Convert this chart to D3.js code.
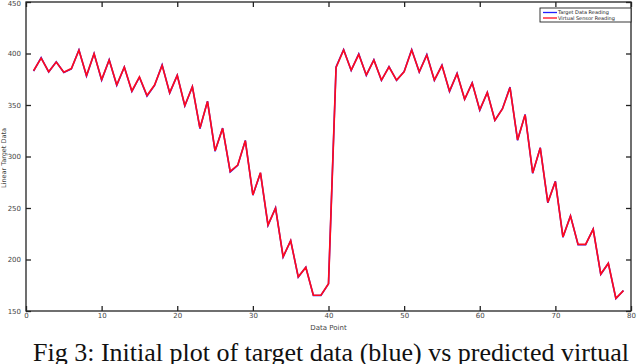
<!DOCTYPE html>
<html>
<head>
<meta charset="utf-8">
<script src="https://cdn.jsdelivr.net/npm/d3@7"></script>
<style>
  body { margin: 0; background: #fff; }
  svg { display: block; }
  .tick text { font-family: "DejaVu Sans", sans-serif; font-size: 7px; fill: #444; }
</style>
</head>
<body>
<div id="chart-area"></div>
<script>
// data, x = 1..79
var target = [383, 396, 382, 392, 381.6, 385, 403.6, 378, 400, 374,
  394, 369, 387, 363, 377, 358.6, 369, 389, 361.5, 379,
  349, 368, 327, 353.8, 305, 327.6, 285, 291.4, 315.6, 262.4,
  284, 233, 250.2, 202.3, 218.4, 182.9, 192.6, 165.1, 165.1, 176.4,
  387, 403.9, 383.5, 399.7, 378.7, 394, 373.8, 387.4, 373.8, 382.6,
  403.9, 382, 399, 373.8, 388.7, 363, 380.9, 355.4, 371.6, 344.8,
  362.4, 335, 346.4, 367.4, 315.7, 340.9, 283.6, 308.6, 255, 276,
  221.5, 242.5, 214.4, 214.4, 229.6, 185.5, 196.4, 162, 170];
var virtual = [383.3, 395.5, 382.3, 391.7, 381.8, 385.3, 403.2, 378.6, 399.7, 374.6,
  393.7, 369.6, 386.7, 363.6, 377.3, 359.2, 369.3, 388.5, 362, 378.7,
  349.5, 367.7, 327.6, 353.4, 305.6, 327.3, 285.6, 291.7, 315.3, 262.7,
  284.3, 233.6, 249.8, 202.7, 218.2, 183.2, 192.3, 165.3, 165.3, 176.5,
  386.5, 403.4, 383.8, 399, 379.2, 393.5, 374.2, 386.9, 374.2, 382.3,
  403.4, 382.3, 398.5, 374.3, 388.3, 363.6, 380.4, 355.8, 371.3, 345.3,
  362.1, 335.3, 346.2, 366.9, 316.1, 340.5, 284, 308.3, 255.5, 275.7,
  222, 242.2, 214.7, 214.7, 229.3, 185.9, 196.2, 162.4, 169.7];
var xTicks = [0, 10, 20, 30, 40, 50, 60, 70, 80];
var yTicks = [150, 200, 250, 300, 350, 400, 450];
var seriesNames = ["Target Data Reading", "Virtual Sensor Reading"];

var width = 640, height = 364;
var plotL = 26, plotR = 631, plotT = 2, plotB = 311;

var svg = d3.select('#chart-area').append('svg')
    .attr('width', width)
    .attr('height', height);

var x = d3.scaleLinear().domain([0, 80]).range([plotL, plotR]);
var y = d3.scaleLinear().domain([150, 450]).range([plotB, plotT]);

// box
svg.append('rect')
    .attr('x', plotL).attr('y', plotT)
    .attr('width', plotR - plotL).attr('height', plotB - plotT)
    .attr('fill', 'none').attr('stroke', '#222').attr('stroke-width', 1.3);

// axes with inward ticks
var xAxis = d3.axisBottom(x).tickValues(xTicks).tickSize(-5).tickPadding(3).tickFormat(d3.format('d'));
var gx = svg.append('g').attr('transform', 'translate(0,' + plotB + ')').call(xAxis);
var gxTop = svg.append('g').attr('transform', 'translate(0,' + plotT + ')')
    .call(d3.axisTop(x).tickValues(xTicks).tickSize(-5).tickFormat(''));
var yAxis = d3.axisLeft(y).tickValues(yTicks).tickSize(-5).tickPadding(5);
var gy = svg.append('g').attr('transform', 'translate(' + plotL + ',0)').call(yAxis);
var gyRight = svg.append('g').attr('transform', 'translate(' + plotR + ',0)')
    .call(d3.axisRight(y).tickValues(yTicks).tickSize(-5).tickFormat(''));

[gx, gxTop, gy, gyRight].forEach(function(g) {
    g.select('.domain').remove();
    g.selectAll('.tick line').attr('stroke', '#222').attr('stroke-width', 1.3);
});
gx.selectAll('.tick text').attr('dy', '0.6em');
gy.selectAll('.tick text').filter(function(d) { return d === 450; }).attr('dy', '0.55em');

// axis labels
svg.append('text')
    .attr('x', x(40)).attr('y', 330)
    .attr('text-anchor', 'middle')
    .style('font-family', 'DejaVu Sans, sans-serif').style('font-size', '7px').style('fill', '#444')
    .text('Data Point');
svg.append('text')
    .attr('transform', 'translate(6,' + 158 + ') rotate(-90)')
    .attr('text-anchor', 'middle')
    .style('font-family', 'DejaVu Sans, sans-serif').style('font-size', '6.5px').style('fill', '#444')
    .text('Linear Target Data');

// lines
var line = d3.line()
    .x(function(d, i) { return x(i + 1); })
    .y(function(d) { return y(d); });

svg.append('path').datum(target)
    .attr('d', line).attr('fill', 'none')
    .attr('stroke', '#2020ff').attr('stroke-width', 1.5);
svg.append('path').datum(virtual)
    .attr('d', line).attr('fill', 'none')
    .attr('stroke', '#ff0a1e').attr('stroke-width', 1.7);

// legend
var lg = svg.append('g').attr('transform', 'translate(540,8)');
lg.append('rect').attr('width', 91).attr('height', 14)
    .attr('fill', '#fff').attr('stroke', '#222').attr('stroke-width', 0.9);
var colors = ['#2020ff', '#ff0a1e'];
seriesNames.forEach(function(name, i) {
    lg.append('line').attr('x1', 3).attr('x2', 17)
        .attr('y1', 4.5 + i * 5.5).attr('y2', 4.5 + i * 5.5)
        .attr('stroke', colors[i]).attr('stroke-width', 1.3);
    lg.append('text').attr('x', 18).attr('y', 6.3 + i * 5.5)
        .style('font-family', 'DejaVu Sans, sans-serif').style('font-size', '5px').style('fill', '#222')
        .text(name);
});

// caption
svg.append('text')
    .attr('x', 33).attr('y', 361)
    .style('font-family', 'Liberation Serif, Times New Roman, serif').style('font-size', '26px').style('fill', '#111')
    .text('Fig 3: Initial plot of target data (blue) vs predicted virtual');
</script>
</body>
</html>
